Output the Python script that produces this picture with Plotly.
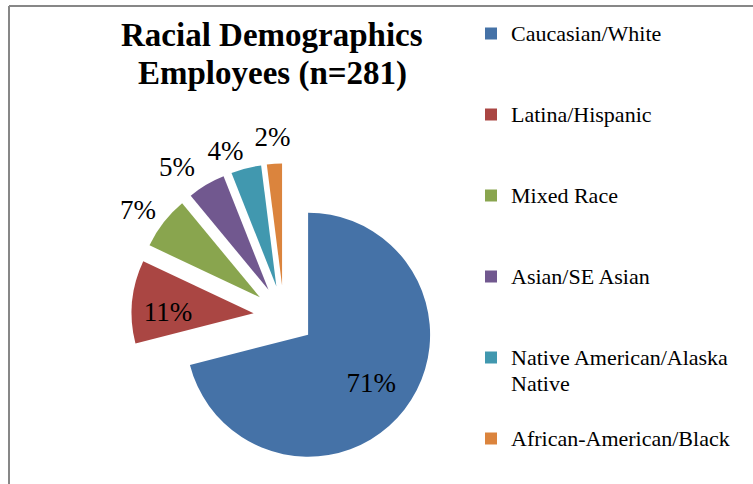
import plotly.graph_objects as go

# Data
categories = ["Caucasian/White", "Latina/Hispanic", "Mixed Race",
              "Asian/SE Asian", "Native American/Alaska Native",
              "African-American/Black"]
percentages = [71, 11, 7, 5, 4, 2]
colors = ["#4572A7", "#AA4643", "#89A54E", "#71588F", "#4198AF", "#DB843D"]
title_lines = ["Racial Demographics", "Employees (n=281)"]

W, H = 753, 484
CX, CY, HALF = 284, 316, 152.5          # pie centre / half domain size (px)
EXPLODE = 0.25

# label styling per slice (style only): position, radial scale, pixel nudge
label_pos = ["inside", "inside", "outside", "outside", "outside", "outside"]
label_scale = [1.0, 1.0, 1.0, 1.05, 1.03, 1.05]
label_nudge = [(15, 11), (5, 7), (0, -7), (0, 0), (6, 1), (24, -4)]


def domain(scale, nudge=(0, 0)):
    h = HALF * scale
    cx, cy = CX + nudge[0], CY + nudge[1]
    return dict(x=[max(0, (cx - h) / W), min(1, (cx + h) / W)],
                y=[max(0, 1 - (cy + h) / H), min(1, 1 - (cy - h) / H)])


# Legend labels: wrapped, enlarged and padded to equal 3-line slots
legend_labels = []
for k, c in enumerate(categories):
    parts = c.replace("/Alaska ", "/Alaska\n").split("\n")
    lines = ['<span style="font-size:22px">%s</span>' % p for p in parts]
    if k < len(categories) - 1:
        while len(lines) < 3:
            lines.append("")
    legend_labels.append("<br>".join(lines))

fig = go.Figure()
fig.add_trace(go.Pie(
    labels=legend_labels,
    values=percentages,
    sort=False,
    direction="clockwise",
    rotation=0,
    pull=[EXPLODE] * len(percentages),
    marker=dict(colors=colors, line=dict(width=0)),
    textposition="none",
    hoverinfo="skip",
    domain=domain(1.0),
))

# One transparent label layer per slice, so labels are not stacked/scooted
for i in range(len(percentages)):
    outside = label_pos[i] == "outside"
    fig.add_trace(go.Pie(
        labels=legend_labels,
        values=percentages,
        sort=False,
        direction="clockwise",
        rotation=0,
        pull=0 if outside else [EXPLODE] * len(percentages),
        marker=dict(colors=["rgba(0,0,0,0)"] * len(percentages),
                    line=dict(width=0)),
        texttemplate="%{percent:.0%}",
        textposition=[label_pos[i] if j == i else "none"
                      for j in range(len(percentages))],
        insidetextorientation="horizontal",
        textfont=dict(family="Liberation Serif", size=27, color="#000000"),
        hoverinfo="skip",
        showlegend=False,
        domain=domain(label_scale[i], label_nudge[i]),
    ))

border = dict(color="#878787", width=2)
fig.update_layout(
    width=W, height=H, autosize=False,
    margin=dict(l=0, r=0, t=0, b=0),
    paper_bgcolor="white", plot_bgcolor="white",
    showlegend=True,
    legend=dict(
        x=471 / W, xanchor="left", y=1 - 14 / H, yanchor="top",
        font=dict(family="Liberation Serif", size=20, color="#000000"),
        valign="top", bgcolor="rgba(0,0,0,0)",
    ),
    shapes=[
        dict(type="line", xref="paper", yref="paper",
             x0=9 / W, x1=9 / W, y0=0, y1=1 - 6 / H, line=border),
        dict(type="line", xref="paper", yref="paper",
             x0=9 / W, x1=1, y0=1 - 6 / H, y1=1 - 6 / H, line=border),
    ],
)

title_tops = [15, 53]
for t, top in zip(title_lines, title_tops):
    fig.add_annotation(
        text="<b>%s</b>" % t, xref="paper", yref="paper",
        x=272 / W, y=1 - top / H, xanchor="center", yanchor="top",
        showarrow=False,
        font=dict(family="Liberation Serif", size=33, color="#000000"),
    )

fig.write_html(
    "out.html",
    config={"displayModeBar": False},
    post_script="document.documentElement.style.overflow='hidden';"
                "document.body.style.overflow='hidden';",
)
